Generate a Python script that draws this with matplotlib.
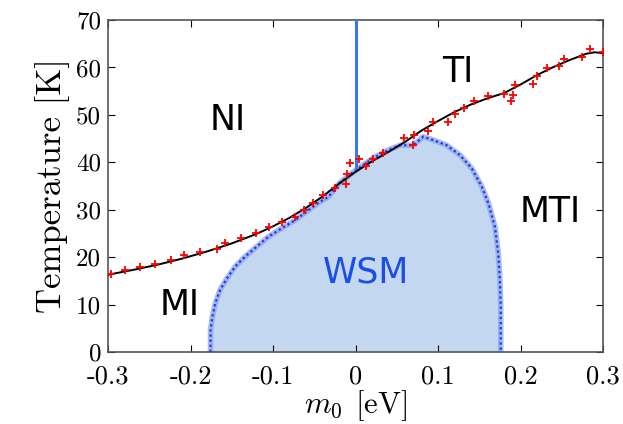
import numpy as np
import matplotlib
matplotlib.use("Agg")
import matplotlib.pyplot as plt

plt.rcParams['mathtext.fontset'] = 'cm'

# red crosses (numerical transition points)
cross_m = [-0.296, -0.279, -0.261, -0.243, -0.224, -0.2075, -0.188, -0.168, -0.158,
           -0.139, -0.1206, -0.1045, -0.089, -0.073, -0.0624, -0.051, -0.0398, -0.0248,
           -0.0115, -0.0099, -0.0067, 0.0042, 0.0124, 0.0216, 0.0337, 0.0588, 0.070,
           0.071, 0.0875, 0.0936, 0.1117, 0.1206, 0.1315, 0.1436, 0.160, 0.180,
           0.1885, 0.191, 0.193, 0.2147, 0.2204, 0.2317, 0.247, 0.2527, 0.274, 0.284, 0.300]
cross_T = [16.4, 17.3, 18.0, 18.55, 19.4, 20.45, 21.15, 21.65, 23.0,
           24.1, 25.1, 26.3, 27.4, 28.4, 29.9, 31.5, 33.1, 34.5,
           35.4, 37.5, 39.8, 40.8, 39.3, 40.7, 41.9, 45.05, 43.6,
           45.75, 46.6, 48.4, 48.4, 50.1, 51.5, 52.9, 54.0, 54.5,
           52.9, 54.2, 56.4, 56.5, 58.3, 59.8, 60.3, 61.8, 62.3, 63.9, 63.2]

# black fitted curve
curve_m = [-0.30, -0.27, -0.24, -0.21, -0.18, -0.15, -0.12, -0.10, -0.08, -0.06,
           -0.04, -0.02, 0.00, 0.02, 0.04, 0.06, 0.08, 0.10, 0.12, 0.14, 0.16,
           0.18, 0.20, 0.22, 0.24, 0.26, 0.28, 0.29, 0.30]
curve_T = [16.3, 17.3, 18.4, 19.7, 21.2, 22.9, 24.9, 26.5, 28.3, 30.4,
           32.8, 35.5, 38.0, 40.2, 42.2, 44.3, 46.7, 48.7, 50.6, 52.2, 53.5,
           54.6, 56.4, 58.4, 60.1, 61.6, 62.9, 63.2, 63.0]

# WSM region boundary
wsm_m = [-0.1758, -0.1758, -0.1736, -0.170, -0.1642, -0.156, -0.146, -0.134, -0.120,
         -0.1057, -0.0895, -0.0733, -0.0572, -0.043, -0.033, -0.019, 0.000, 0.021,
         0.040, 0.054, 0.070, 0.082, 0.094, 0.1105, 0.1267, 0.141, 0.153, 0.161,
         0.169, 0.173, 0.175, 0.176, 0.176]
wsm_T = [0.0, 4.6, 7.4, 10.3, 13.1, 15.5, 18.0, 20.1, 22.2,
         24.3, 26.1, 27.8, 29.9, 31.7, 32.7, 35.7, 38.3, 40.9,
         42.6, 43.6, 43.6, 45.4, 44.7, 43.6, 41.5, 38.7, 34.9, 31.4,
         26.4, 20.8, 15.2, 9.6, 0.0]

phase_labels = ['NI', 'TI', 'MTI', 'MI', 'WSM']
phase_pos = [(-0.1545, 49.0), (0.124, 59.1), (0.236, 29.6), (-0.213, 9.9), (0.013, 16.7)]
phase_col = ['black', 'black', 'black', 'black', '#1a4fe6']

xticks = [-0.3, -0.2, -0.1, 0, 0.1, 0.2, 0.3]
xticklabels = ['-0.3', '-0.2', '-0.1', '0', '0.1', '0.2', '0.3']
yticks = [0, 10, 20, 30, 40, 50, 60, 70]

fig = plt.figure(figsize=(6.23, 4.24), dpi=100)
ax = fig.add_axes([0.1734, 0.1698, 0.7946, 0.783])

ax.fill(wsm_m, wsm_T, color='#c3d7f0', zorder=1)
ax.plot(wsm_m, wsm_T, color='#8aa4f2', lw=4, alpha=0.75, zorder=2,
        solid_joinstyle='round')
ax.plot(wsm_m, wsm_T, color='#2438d6', lw=1.6, ls=(0, (1, 1.3)), zorder=2)

ax.plot([0, 0], [38.3, 70], color='#3a7ae8', lw=2.2, zorder=3)
ax.plot(curve_m, curve_T, color='black', lw=1.4, zorder=4)
ax.plot(cross_m, cross_T, '+', color='red', ms=6, mew=1.3, zorder=5)

for lab, (px, py), c in zip(phase_labels, phase_pos, phase_col):
    ax.text(px, py, lab, ha='center', va='center', fontsize=25, color=c,
            family='DejaVu Sans')

ax.set_xlim(-0.3, 0.3)
ax.set_ylim(0, 70)
ax.set_xticks(xticks)
ax.set_xticklabels(xticklabels)
ax.set_yticks(yticks)
ax.set_yticklabels([str(v) for v in yticks])
for lbl in ax.get_xticklabels():
    lbl.set_family('cmr10')
    lbl.set_fontsize(19)
for lbl in ax.get_yticklabels():
    lbl.set_family('cmr10')
    lbl.set_fontsize(18)
ax.tick_params(axis='x', direction='in', top=True, length=5, width=0.8, pad=9)
ax.tick_params(axis='y', direction='in', right=True, length=5, width=0.8, pad=5)
for sp in ax.spines.values():
    sp.set_color('#555555')
    sp.set_linewidth(1.2)

ax.set_xlabel(r'$m_0\;\,[\mathrm{eV}]$', fontsize=22, labelpad=0)
ax.set_ylabel('Temperature [K]', fontsize=25, family='cmr10', labelpad=4)

fig.savefig('out.png', dpi=100)
